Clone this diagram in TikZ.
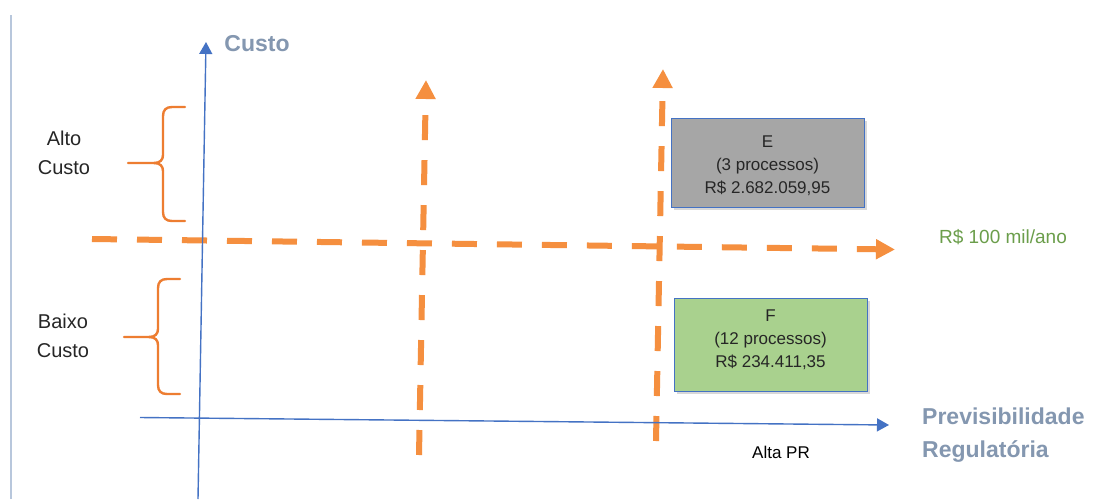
\documentclass[tikz,border=0pt]{standalone}
\usepackage{fontspec}
\setmainfont{Liberation Sans}
\usetikzlibrary{arrows.meta,shadows}
\definecolor{axblue}{HTML}{4472C4}
\definecolor{axlabel}{HTML}{8497B0}
\definecolor{dashorange}{HTML}{F58F3F}
\definecolor{braceorange}{HTML}{ED7D31}
\definecolor{boxgrey}{HTML}{A6A6A6}
\definecolor{boxgreen}{HTML}{A9D18E}
\definecolor{boxedge}{HTML}{4472C4}
\definecolor{thrgreen}{HTML}{6B9E4B}
\definecolor{edgeline}{HTML}{B8C7DC}
\definecolor{txtdark}{HTML}{262626}
\begin{document}
\begin{tikzpicture}[x=1pt,y=-1pt,
  axisline/.style={draw=axblue,line width=1.4pt,-{Triangle[width=13pt,length=12pt]}},
  orangedash/.style={draw=dashorange,line width=6pt,dash pattern=on 25pt off 20pt,
    -{Triangle[width=19pt,length=19pt]}},
  bracestyle/.style={draw=braceorange,line width=2.4pt,line cap=round},
  sidelbl/.style={font=\fontsize{20}{29}\selectfont,text=txtdark,align=center,inner sep=0pt},
  axlbl/.style={font=\fontsize{23}{33}\selectfont\bfseries,text=axlabel,align=left,inner sep=0pt},
  quadbox/.style={draw=boxedge,line width=1pt,minimum width=193pt,inner sep=0pt,
    drop shadow={shadow xshift=2.5pt,shadow yshift=-3pt,opacity=0.3}},
  boxtxt/.style={font=\fontsize{17}{23}\selectfont,text=txtdark,align=center,inner sep=0pt},
]
\useasboundingbox (0,0) rectangle (1096,499);
\fill[white] (0,0) rectangle (1096,499);

% left page edge
\coordinate (et) at (11,15);
\coordinate (eb) at (11,499);
\draw[edgeline,line width=2pt] (et) -- (eb);

% orange dashed lines
\coordinate (hl) at (92,239);
\coordinate (hr) at (895,249.5);
\draw[orangedash] (hl) -- (hr);
\coordinate (v1b) at (419,455);
\coordinate (v1t) at (426,80);
\draw[orangedash] (v1b) -- (v1t);
\coordinate (v2b) at (656,441);
\coordinate (v2t) at (663,69);
\draw[orangedash] (v2b) -- (v2t);

% axes
\coordinate (yb) at (198,499);
\coordinate (yt) at (206,42);
\draw[axisline] (yb) -- (yt);
\coordinate (xl) at (140,417.5);
\coordinate (xr) at (889,425);
\draw[axisline] (xl) -- (xr);

% braces
\draw[bracestyle] (185,107) -- (172,107) .. controls (166,107) and (163,110) .. (163,116)
  -- (163,155) .. controls (163,160) and (160,163) .. (154,163) -- (128,163);
\draw[bracestyle] (154,163) .. controls (160,163) and (163,166) .. (163,171)
  -- (163,212) .. controls (163,218) and (166,221) .. (172,221) -- (185,221);
\draw[bracestyle] (180,279) -- (167,279) .. controls (161,279) and (158,282) .. (158,288)
  -- (158,329) .. controls (158,334) and (155,337) .. (149,337) -- (124,337);
\draw[bracestyle] (149,337) .. controls (155,337) and (158,340) .. (158,345)
  -- (158,385) .. controls (158,391) and (161,394) .. (167,394) -- (180,394);

% labels
\node[sidelbl] (alto) at (64,152.5) {Alto\\Custo};
\node[sidelbl] (baixo) at (63,336) {Baixo\\Custo};
\node[axlbl,anchor=center] (custo) at (257,43.5) {Custo};
\node[axlbl,anchor=west] (prev) at (922,435.5) {Previsibilidade\\Regulatória};
\node[font=\fontsize{17}{20}\selectfont,text=black,inner sep=0pt] (altapr) at (781,452) {Alta PR};
\node[font=\fontsize{19}{22}\selectfont,text=thrgreen,inner sep=0pt] (limite) at (1003,237) {R\$ 100 mil/ano};

% boxes
\node[quadbox,fill=boxgrey,minimum height=89pt] (boxE) at (767.5,162.5) {};
\node[boxtxt] (txtE) at (767.5,165.5) {E\\(3 processos)\\R\$ 2.682.059,95};
\node[quadbox,fill=boxgreen,minimum height=93pt] (boxF) at (770.5,344.5) {};
\node[boxtxt] (txtF) at (770.5,339.7) {F\\(12 processos)\\R\$ 234.411,35};
\end{tikzpicture}
\end{document}
